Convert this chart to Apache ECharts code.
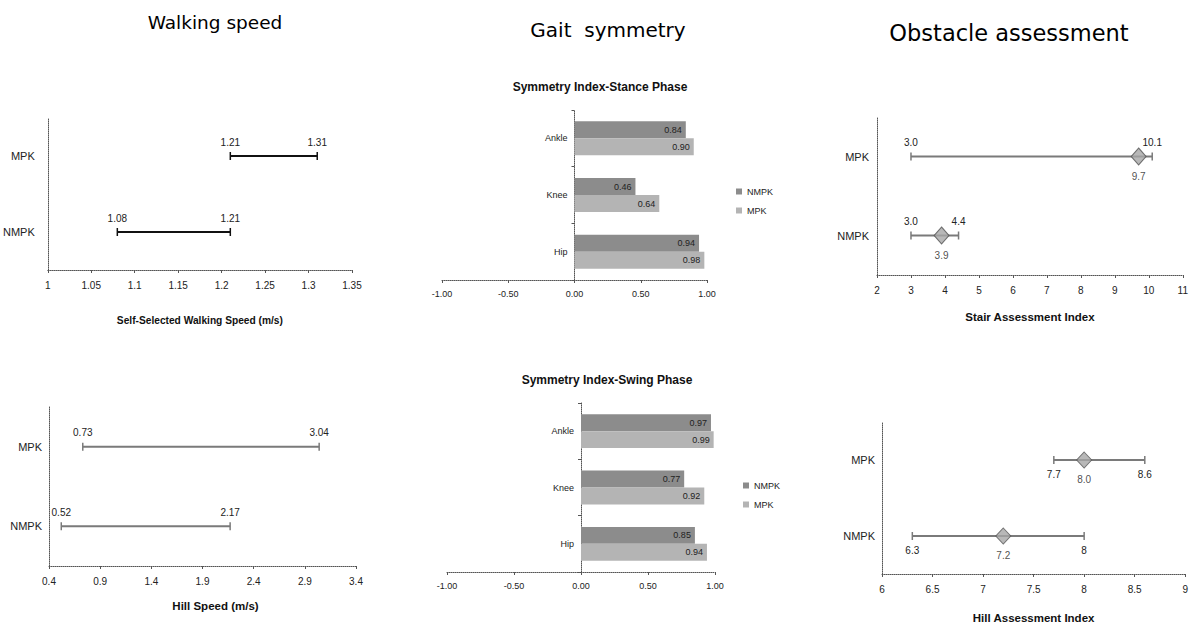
<!DOCTYPE html>
<html><head><meta charset="utf-8">
<script src="https://cdn.jsdelivr.net/npm/echarts@6/dist/echarts.min.js"></script>
<style>html,body{margin:0;padding:0;background:#fff}#c{width:1191px;height:629px}</style>
</head><body><div id="c"></div>
<script>
// ---- data ----
const rowCats = ['NMPK', 'MPK'];
const walkMPK = [1.21, 1.31];
const walkNMPK = [1.08, 1.21];
const walkTicks = [1, 1.05, 1.1, 1.15, 1.2, 1.25, 1.3, 1.35];
const hillMPK = [0.73, 3.04];
const hillNMPK = [0.52, 2.17];
const hillTicks = [0.4, 0.9, 1.4, 1.9, 2.4, 2.9, 3.4];
const stairMPK = [3.0, 10.1];
const stairNMPK = [3.0, 4.4];
const stairMean = [3.9, 9.7];          // NMPK, MPK
const stairTicks = [2, 3, 4, 5, 6, 7, 8, 9, 10, 11];
const hillIdxMPK = [7.7, 8.6];
const hillIdxNMPK = [6.3, 8.0];
const hillIdxMean = [7.2, 8.0];        // NMPK, MPK
const hillIdxTicks = [6, 6.5, 7, 7.5, 8, 8.5, 9];
const hillIdxMPKText = ['7.7', '8.6'];
const hillIdxNMPKText = ['6.3', '8'];
const hillIdxMeanText = ['7.2', '8.0'];
const jointCats = ['Hip', 'Knee', 'Ankle'];
const stanceNMPK = [0.94, 0.46, 0.84];
const stanceMPK = [0.98, 0.64, 0.90];
const swingNMPK = [0.85, 0.77, 0.97];
const swingMPK = [0.94, 0.92, 0.99];
const symTicks = [-1, -0.5, 0, 0.5, 1];

// ---- styles ----
const SANS = '"Liberation Sans", Arial, sans-serif';
const axisLineStyle = { show: true, lineStyle: { color: '#555', width: 1, type: 'dotted' } };

function fmtGeneral(v) { return String(+(+v).toFixed(2)); }

function valueAxis(gi, min, max, ticks, name, nameGap, nameSize, namePad) {
  return {
    type: 'value', gridIndex: gi, min: min, max: max,
    axisLine: Object.assign({ onZero: false }, axisLineStyle),
    axisTick: { show: true, length: 3, customValues: ticks, lineStyle: { color: '#555' } },
    axisLabel: { customValues: ticks, formatter: fmtGeneral, fontFamily: SANS, fontSize: 10, color: '#222', margin: 10 },
    splitLine: { show: false },
    name: name, nameLocation: 'middle', nameGap: nameGap,
    nameTextStyle: { fontFamily: SANS, fontWeight: 'bold', fontSize: nameSize, color: '#111', padding: namePad || 0 }
  };
}
function catAxis(gi, margin) {
  return {
    type: 'category', gridIndex: gi, data: rowCats,
    axisLine: Object.assign({ onZero: false }, axisLineStyle),
    axisTick: { show: false },
    axisLabel: { fontFamily: SANS, fontSize: 11, color: '#222', margin: margin }
  };
}
function rangeLine(gi, cat, vals, texts, pos, color, width) {
  return {
    type: 'line', name: 'r' + gi + cat, xAxisIndex: gi, yAxisIndex: gi,
    data: vals.map(v => [v, cat]),
    symbol: 'rect', symbolSize: [1.5, 8],
    lineStyle: { color: color, width: width },
    itemStyle: { color: color },
    label: { show: true, position: pos, distance: 5, formatter: p => texts[p.dataIndex], fontFamily: SANS, fontSize: 10, color: '#222' },
    silent: true, z: 3
  };
}
function meanPoint(gi, means, texts, size) {
  return {
    type: 'scatter', name: 'm' + gi, xAxisIndex: gi, yAxisIndex: gi,
    data: means.map((v, i) => [v, rowCats[i]]),
    symbol: 'diamond', symbolSize: size,
    itemStyle: { color: '#a6a6a6', borderColor: '#555', borderWidth: 1 },
    label: { show: true, position: 'bottom', distance: 6, formatter: p => texts[p.dataIndex], fontFamily: SANS, fontSize: 10, color: '#222' },
    silent: true, z: 4
  };
}
function symBar(gi, name, vals, color) {
  return {
    type: 'bar', name: name, xAxisIndex: gi, yAxisIndex: gi, data: vals,
    barGap: '0%', barCategoryGap: '40%',
    itemStyle: { color: color },
    label: { show: true, position: 'insideRight', distance: 4, formatter: p => p.value.toFixed(2), fontFamily: SANS, fontSize: 9, color: '#222' },
    silent: true
  };
}
function symXAxis(gi) {
  return {
    type: 'value', gridIndex: gi, min: -1, max: 1,
    axisLine: Object.assign({ onZero: false }, axisLineStyle),
    axisTick: { show: true, length: 3, customValues: symTicks, lineStyle: { color: '#555' } },
    axisLabel: { customValues: symTicks, formatter: v => (+v).toFixed(2), fontFamily: SANS, fontSize: 9, color: '#222', margin: 9 },
    splitLine: { show: false }
  };
}
function symYAxis(gi, offset) {
  return {
    type: 'category', gridIndex: gi, data: jointCats, position: 'left', offset: offset,
    axisLine: Object.assign({ onZero: false }, axisLineStyle),
    axisTick: { show: true, length: 3, lineStyle: { color: '#555' } },
    axisLabel: { fontFamily: SANS, fontSize: 9, color: '#222', margin: 7 }
  };
}

const chart = echarts.init(document.getElementById('c'), null, { renderer: 'svg' });
const stairText = v => v.toFixed(1);

chart.setOption({
  animation: false,
  backgroundColor: '#fff',
  graphic: [
    { type: 'text', x: 215, y: 22, style: { text: 'Walking speed', font: '18.5px "DejaVu Sans"', fill: '#000', align: 'center', verticalAlign: 'middle' } },
    { type: 'text', x: 608, y: 30, style: { text: 'Gait  symmetry', font: '20px "DejaVu Sans"', fill: '#000', align: 'center', verticalAlign: 'middle' } },
    { type: 'text', x: 1009, y: 33, style: { text: 'Obstacle assessment', font: '22.5px "DejaVu Sans"', fill: '#000', align: 'center', verticalAlign: 'middle' } },
    { type: 'text', x: 600, y: 87, style: { text: 'Symmetry Index-Stance Phase', font: 'bold 12px "Liberation Sans"', fill: '#111', align: 'center', verticalAlign: 'middle' } },
    { type: 'text', x: 607, y: 380, style: { text: 'Symmetry Index-Swing Phase', font: 'bold 12px "Liberation Sans"', fill: '#111', align: 'center', verticalAlign: 'middle' } }
  ],
  legend: [
    { data: ['NMPK', 'MPK'], orient: 'vertical', left: 731, top: 182, itemWidth: 6, itemHeight: 6, itemGap: 10, textStyle: { fontFamily: SANS, fontSize: 9, color: '#222' }, icon: 'rect', selectedMode: false },
    { data: ['NMPK', 'MPK'], orient: 'vertical', left: 738, top: 476, itemWidth: 6, itemHeight: 6, itemGap: 10, textStyle: { fontFamily: SANS, fontSize: 9, color: '#222' }, icon: 'rect', selectedMode: false }
  ],
  grid: [
    { left: 45, top: 118, width: 307, height: 152 },
    { left: 49, top: 407, width: 307, height: 159 },
    { left: 442, top: 110, width: 265, height: 170 },
    { left: 447, top: 403, width: 268, height: 169 },
    { left: 877, top: 117, width: 306, height: 158 },
    { left: 882, top: 422, width: 304, height: 152 }
  ],
  xAxis: [
    valueAxis(0, 1, 1.35, walkTicks, 'Self-Selected Walking Speed (m/s)', 45, 10.2),
    valueAxis(1, 0.4, 3.4, hillTicks, 'Hill Speed (m/s)', 34, 11.5, [0, 0, 0, 26]),
    symXAxis(2),
    symXAxis(3),
    valueAxis(4, 2, 11, stairTicks, 'Stair Assessment Index', 36, 11.5),
    valueAxis(5, 6, 9, hillIdxTicks, 'Hill Assessment Index', 38, 11.5)
  ],
  yAxis: [
    catAxis(0, 13),
    catAxis(1, 7),
    symYAxis(2, -132.5),
    symYAxis(3, -134),
    catAxis(4, 8),
    catAxis(5, 7)
  ],
  series: [
    rangeLine(0, 'MPK', walkMPK, walkMPK.map(fmtGeneral), 'top', '#111', 2),
    rangeLine(0, 'NMPK', walkNMPK, walkNMPK.map(fmtGeneral), 'top', '#111', 2),
    rangeLine(1, 'MPK', hillMPK, hillMPK.map(v => v.toFixed(2)), 'top', '#7a7a7a', 2),
    rangeLine(1, 'NMPK', hillNMPK, hillNMPK.map(v => v.toFixed(2)), 'top', '#7a7a7a', 2),
    symBar(2, 'NMPK', stanceNMPK, '#8c8c8c'),
    symBar(2, 'MPK', stanceMPK, '#b4b4b4'),
    symBar(3, 'NMPK', swingNMPK, '#8c8c8c'),
    symBar(3, 'MPK', swingMPK, '#b4b4b4'),
    rangeLine(4, 'MPK', stairMPK, stairMPK.map(stairText), 'top', '#7a7a7a', 2),
    rangeLine(4, 'NMPK', stairNMPK, stairNMPK.map(stairText), 'top', '#7a7a7a', 2),
    meanPoint(4, stairMean, stairMean.map(stairText), [15, 17]),
    rangeLine(5, 'MPK', hillIdxMPK, hillIdxMPKText, 'bottom', '#7a7a7a', 2),
    rangeLine(5, 'NMPK', hillIdxNMPK, hillIdxNMPKText, 'bottom', '#7a7a7a', 2),
    meanPoint(5, hillIdxMean, hillIdxMeanText, [15, 16])
  ]
});
</script></body></html>
